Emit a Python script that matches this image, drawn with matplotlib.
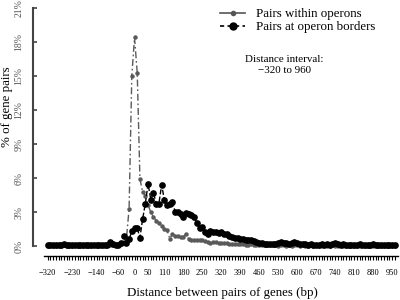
import numpy as np
import matplotlib
matplotlib.use('Agg')
import matplotlib.pyplot as plt
from matplotlib.lines import Line2D

plt.rcParams['font.family'] = ['Liberation Serif', 'DejaVu Serif']

# distance bins (bp), one point every 10 bp
distance = np.arange(-320, 970, 10)

# % of gene pairs
within_operons = [
    0.0, 0.05, 0.0, 0.0, 0.05, 0.0, 0.05, 0.0, 0.0, 0.0,
    0.05, 0.0, 0.0, 0.0, 0.05, 0.0, 0.0, 0.05, 0.0, 0.05,
    0.0, 0.05, 0.05, 0.05, 0.1, 0.05, 0.1, 0.2, 0.35,
    0.6, 3.3, 15.0, 18.4, 15.3, 5.9, 4.75, 4.45, 3.6, 3.0,
    2.55, 2.25, 2.0, 1.8, 1.5, 1.4, 0.65, 1.05, 0.9, 0.85,
    0.8, 0.8, 1.1, 0.6, 0.55, 0.55, 0.5, 0.5, 0.5, 0.4,
    0.35, 0.25, 0.35, 0.35, 0.3, 0.25, 0.25, 0.3, 0.2, 0.2,
    0.2, 0.15, 0.15, 0.15, 0.1, 0.1, 0.15, 0.1, 0.1, 0.05,
    0.1, 0.05, 0.05, 0.1, 0.05,
    0.05, 0.0, 0.05, 0.05, 0.0, 0.05, 0.0, 0.05, 0.05, 0.0,
    0.05, 0.0, 0.0, 0.05, 0.0, 0.05, 0.0, 0.0, 0.05, 0.0,
    0.0, 0.05, 0.0, 0.0, 0.05, 0.0, 0.0, 0.0, 0.05, 0.0,
    0.0, 0.0, 0.05, 0.0, 0.0, 0.0, 0.0, 0.05, 0.0, 0.0,
    0.0, 0.0, 0.0, 0.0, 0.0,
]
operon_borders = [
    0.05, 0.05, 0.05, 0.05, 0.1, 0.1, 0.2, 0.1, 0.05, 0.05,
    0.05, 0.05, 0.05, 0.05, 0.05, 0.1, 0.1, 0.1, 0.1, 0.05,
    0.1, 0.05, 0.1, 0.35, 0.15, 0.1,
    0.1, 0.3, 0.85, 0.3, 0.6, 1.3, 1.6, 1.55, 0.75, 2.4,
    3.75, 5.5, 4.1, 4.7, 3.75, 3.75, 5.4, 4.1, 3.6, 3.7,
    3.9, 3.0, 3.0, 2.8, 2.6, 2.9, 2.85, 2.7, 2.55, 2.0,
    1.6, 1.65, 1.2, 1.1, 1.35, 1.2, 1.2, 1.15, 1.2, 1.1,
    1.05, 0.9, 0.8, 0.75, 0.7, 0.65, 0.6, 0.55, 0.5, 0.5,
    0.4, 0.35, 0.3, 0.25, 0.2, 0.2, 0.15, 0.15, 0.2, 0.25,
    0.35, 0.25, 0.3, 0.2, 0.3, 0.35, 0.3, 0.2, 0.15, 0.15,
    0.1, 0.15, 0.1, 0.1, 0.1, 0.15, 0.1, 0.15, 0.1, 0.15,
    0.25, 0.15, 0.1, 0.15, 0.1, 0.1, 0.1, 0.1, 0.1, 0.15,
    0.1, 0.1, 0.1, 0.1, 0.15, 0.1, 0.1, 0.1, 0.1, 0.1,
    0.1, 0.05, 0.05,
]

x_labels = [-320, -230, -140, -60, 0, 50, 110, 180, 250, 320, 390,
            460, 530, 600, 670, 740, 810, 880, 950]
y_ticks = [0, 3, 6, 9, 12, 15, 18, 21]

fig = plt.figure(figsize=(4, 3), dpi=100)
ax = fig.add_axes([33 / 400, 44 / 300, 365 / 400, 248 / 300])

ax.plot(distance, within_operons, color='#5a5a5a', lw=1.0,
        dashes=(5, 2, 1.2, 2), marker='o', ms=2.2, zorder=2)
ax.plot(distance, operon_borders, color='black', lw=1.0, ls='--',
        marker='o', ms=3.8, zorder=3)

ax.set_xlim(-374.5, 972)
ax.set_ylim(-0.88, 21)

for s in ['top', 'right']:
    ax.spines[s].set_visible(False)
ax.spines['left'].set_bounds(0, 21)
ax.spines['left'].set_color('#444444')
ax.spines['left'].set_linewidth(1.5)
ax.spines['bottom'].set_bounds(-334, 972)
ax.spines['bottom'].set_linewidth(1.0)

ax.set_xticks(distance)
ax.set_xticklabels([('%d' % d).replace('-', '\u2212') if d in x_labels else ''
                    for d in distance])
ax.tick_params(axis='x', direction='out', length=3, width=0.8,
               labelsize=6, pad=6.5)

ax.set_yticks(y_ticks)
ax.set_yticklabels(['%d%%' % v for v in y_ticks], rotation=90, va='center')
ax.tick_params(axis='y', direction='in', length=3, width=1.2,
               color='#444444', labelsize=7, labelcolor='#555555', pad=7)

ax.set_xlabel('Distance between pairs of genes (bp)', fontsize=9.3)
ax.xaxis.set_label_coords(0.518, -0.125)
fig.text(7 / 400, 1 - 107 / 300, '% of gene pairs', rotation=90,
         ha='center', va='center', fontsize=9.3)

handles = [
    Line2D([], [], color='#555555', lw=1.2, marker='o', ms=3),
    Line2D([], [], color='black', lw=1.2, ls=(0, (2.5, 2)), marker='o', ms=5),
]
fig.legend(handles, ['Pairs within operons', 'Pairs at operon borders'],
           loc='upper left', bbox_to_anchor=(220 / 400, 1 - 8 / 300),
           frameon=False, fontsize=9.3, handlelength=1.95,
           handletextpad=0.85, labelspacing=0.1, borderpad=0,
           borderaxespad=0)

fig.text(284 / 400, 1 - 65 / 300, 'Distance interval:\n\u2212320 to 960',
         ha='center', va='center', fontsize=7.9, linespacing=1.25)

fig.savefig('out.png', dpi=100)
